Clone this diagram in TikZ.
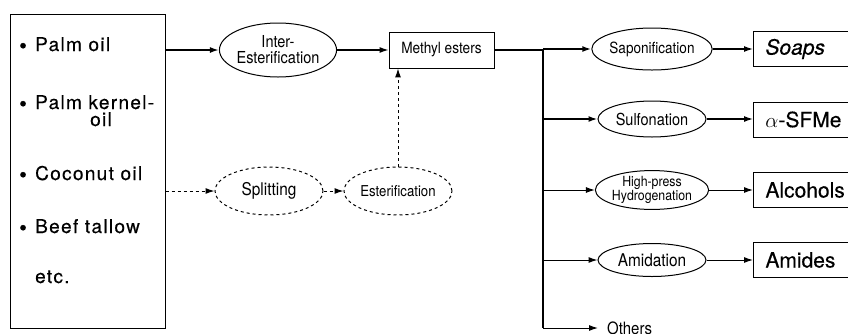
\documentclass[tikz,border=0pt]{standalone}
\usepackage{fontspec}
\setmainfont{TeX Gyre Heros}
\newfontfamily\widefont[LetterSpace=7,FakeBold=0.4]{TeX Gyre Heros}
\newfontfamily\narrowfont[FakeStretch=0.88]{TeX Gyre Heros}
\newfontfamily\prodfont[FakeBold=0.3]{TeX Gyre Heros}
\usetikzlibrary{shapes.geometric,arrows.meta}
\newcommand\bul{\makebox[16pt][l]{\raisebox{-2.3pt}{\fontsize{22}{22}\selectfont •}}}
\tikzset{
  srcbox/.style={draw, line width=1pt, minimum width=155pt, minimum height=314pt},
  item/.style={inner sep=0pt, anchor=base west, font=\widefont\fontsize{19}{19}\selectfont},
  proc/.style={draw, ellipse, line width=1pt, inner sep=0pt, align=center, minimum width=108pt},
  dproc/.style={proc, dashed},
  midbox/.style={draw, line width=0.9pt, minimum width=105pt, minimum height=36pt, font=\narrowfont\fontsize{15.5}{15.5}\selectfont},
  prod/.style={draw, line width=0.9pt, anchor=west, minimum height=35pt, inner xsep=12pt, text width=110pt, align=left, font=\prodfont\fontsize{21}{21}\selectfont},
  flow/.style={-{Latex[length=9pt,width=6pt]}, line width=1pt},
  dflow/.style={flow, dashed}
}
\begin{document}
\begin{tikzpicture}[x=1pt,y=-1pt]
\path[use as bounding box, clip] (0,0) rectangle (848,333);
\node[srcbox] (src) at (87.5,171) {};
\node[item] (palm) at (19,51) {\bul Palm oil};
\node[item] (kern) at (19,109) {\bul Palm kernel-};
\node[item] (kern2) at (90,126) {oil};
\node[item] (coco) at (19,180) {\bul Coconut oil};
\node[item] (beef) at (19,233) {\bul Beef tallow};
\node[item] (etc) at (35,283) {etc.};
\node[proc, minimum height=54pt, font=\narrowfont\fontsize{16.5}{16}\selectfont] (inter) at (278,50) {Inter-\\Esterification};
\node[midbox] (meth) at (441.5,50) {Methyl esters};
\node[dproc, minimum height=48pt, font=\narrowfont\fontsize{17.5}{17}\selectfont] (split) at (269,191) {Splitting};
\node[dproc, minimum height=48pt, font=\narrowfont\fontsize{15}{15}\selectfont] (ester) at (398,191) {Esterification};
\node[proc, minimum height=42pt, font=\narrowfont\fontsize{15.4}{15}\selectfont] (sapon) at (652,49) {Saponification};
\node[proc, minimum height=36pt, font=\narrowfont\fontsize{16.5}{16}\selectfont] (sulf) at (652,119) {Sulfonation};
\node[proc, minimum height=34pt, font=\narrowfont\fontsize{14}{12.5}\selectfont] (hydro) at (652,190) {High-press\\Hydrogenation};
\node[proc, minimum height=33pt, font=\narrowfont\fontsize{17.5}{17}\selectfont] (amid) at (652,260) {Amidation};
\node[prod] (soap) at (753,49) {\textit{Soaps}};
\node[prod] (sfme) at (753,119.5) {$\alpha$-SFMe};
\node[prod] (alco) at (753,190) {Alcohols};
\node[prod] (amide) at (753,260) {Amides};
\coordinate (jn) at (543,50);
\coordinate (bot) at (543,328);
\node[anchor=west, inner xsep=9pt, font=\narrowfont\fontsize{17}{17}\selectfont] (oth) at (598,328) {Others};
\draw[flow, line width=1.7pt] (src.east |- inter) -- (inter);
\draw[flow, line width=1.2pt] (inter) -- (meth);
\draw[dflow] (src.east |- split) -- (split);
\draw[dflow] (split) -- (ester);
\draw[dflow] (ester.north) -- (ester.north |- meth.south);
\draw[line width=1.7pt] (meth) -- (jn);
\draw[line width=1.2pt] (jn) -- (bot);
\draw[flow, line width=1.7pt] (jn |- sapon) -- (sapon);
\draw[flow, line width=1.7pt] (jn |- sulf) -- (sulf);
\draw[flow] (jn |- hydro) -- (hydro);
\draw[flow] (jn |- amid) -- (amid);
\draw[flow] (bot) -- (oth);
\draw[flow, line width=1.3pt] (sapon) -- (sapon -| soap.west);
\draw[flow, line width=1.3pt] (sulf) -- (sulf -| sfme.west);
\draw[flow] (hydro) -- (hydro -| alco.west);
\draw[flow] (amid) -- (amid -| amide.west);
\end{tikzpicture}
\end{document}
